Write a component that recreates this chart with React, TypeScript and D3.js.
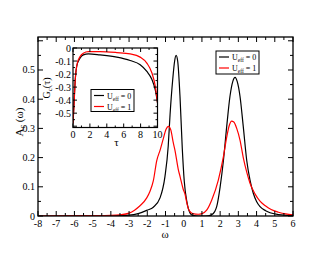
import * as d3 from 'd3'

// main panel: A_c(omega)
const omegaU0 = [-8, -5, -4, -3, -2.5, -2, -1.67, -1.3, -1.03, -0.85, -0.75, -0.6, -0.5, -0.42, -0.33, -0.2, -0.08, 0.03, 0.17, 0.35, 0.5, 0.8, 1.2, 1.5, 1.7, 1.81, 2.0, 2.18, 2.36, 2.54, 2.7, 2.82, 2.94, 3.09, 3.27, 3.46, 3.64, 3.82, 4.0, 4.19, 4.5, 4.74, 5.2, 5.5, 6]
const aU0 = [0, 0.0005, 0.001, 0.003, 0.008, 0.02, 0.03, 0.062, 0.135, 0.24, 0.347, 0.47, 0.53, 0.55, 0.53, 0.404, 0.233, 0.119, 0.05, 0.01, 0.002, 0, 0, 0.003, 0.015, 0.032, 0.1, 0.19, 0.306, 0.41, 0.462, 0.475, 0.46, 0.41, 0.306, 0.19, 0.123, 0.078, 0.05, 0.032, 0.018, 0.011, 0.005, 0.003, 0.002]

const omegaU1 = [-8, -5, -4, -3.5, -3, -2.7, -2.4, -2.03, -1.85, -1.67, -1.48, -1.3, -1.12, -0.97, -0.84, -0.71, -0.57, -0.48, -0.3, -0.2, -0.02, 0.07, 0.17, 0.25, 0.35, 0.5, 0.8, 1.0, 1.26, 1.54, 1.9, 2.18, 2.36, 2.5, 2.63, 2.75, 2.91, 3.09, 3.27, 3.46, 3.64, 3.92, 4.2, 4.5, 4.8, 5.2, 5.6, 6]
const aU1 = [0, 0.001, 0.002, 0.004, 0.01, 0.02, 0.035, 0.062, 0.085, 0.12, 0.19, 0.225, 0.265, 0.297, 0.307, 0.295, 0.25, 0.225, 0.16, 0.135, 0.09, 0.075, 0.045, 0.026, 0.015, 0.008, 0.006, 0.008, 0.02, 0.055, 0.123, 0.203, 0.27, 0.31, 0.325, 0.322, 0.3, 0.26, 0.2, 0.15, 0.112, 0.075, 0.05, 0.034, 0.022, 0.013, 0.007, 0.004]

// inset: G_c(tau)
const tauU0 = [0, 0.12, 0.24, 0.44, 0.83, 1.22, 1.82, 3.2, 5.18, 6.76, 7.95, 8.74, 9.33, 9.73, 9.93, 10]
const gU0 = [-0.58, -0.42, -0.27, -0.14, -0.078, -0.053, -0.045, -0.053, -0.07, -0.096, -0.129, -0.18, -0.24, -0.32, -0.39, -0.42]
const tauU1 = [0, 0.12, 0.27, 0.51, 0.83, 1.22, 1.82, 3.2, 5.18, 6.76, 7.95, 8.74, 9.33, 9.73, 10]
const gU1 = [-0.58, -0.44, -0.24, -0.116, -0.066, -0.04, -0.028, -0.028, -0.035, -0.045, -0.07, -0.116, -0.19, -0.29, -0.42]

const xTicks = d3.range(-8, 7, 1)
const xMinor = d3.range(-7.5, 6, 1)
const yTicks = [0, 0.1, 0.2, 0.3, 0.4, 0.5, 0.6]
const yMinor = [0.05, 0.15, 0.25, 0.35, 0.45, 0.55]
const insetXTicks = [0, 2, 4, 6, 8, 10]
const insetXMinor = [1, 3, 5, 7, 9]
const insetYTicks = [0, -0.1, -0.2, -0.3, -0.4, -0.5, -0.6]
const insetYMinor = [-0.05, -0.15, -0.25, -0.35, -0.45, -0.55]

const series = [
  { label: '0', color: '#000000' },
  { label: '1', color: '#ff0000' },
]

const FONT = '"Liberation Serif", "DejaVu Serif", serif'

function Legend({ x, y, w, h, rowH }: { x: number; y: number; w: number; h: number; rowH: number }) {
  return (
    <g>
      <rect x={x} y={y} width={w} height={h} fill="#fff" stroke="#000" strokeWidth={1} />
      {series.map((s, i) => {
        const cy = y + 6 + i * rowH
        return (
          <g key={s.label}>
            <line x1={x + 3} x2={x + 13} y1={cy} y2={cy} stroke={s.color} strokeWidth={1.2} />
            <text x={x + 16} y={cy + 3} fontSize={8} fontFamily={FONT}>
              U<tspan fontSize={5.5} dy={2}>eff</tspan><tspan dy={-2}> = {s.label}</tspan>
            </text>
          </g>
        )
      })}
    </g>
  )
}

export default function App() {
  // main panel frame
  const x = d3.scaleLinear().domain([-8, 6]).range([38, 293])
  const y = d3.scaleLinear().domain([0, 0.613]).range([216, 37])
  // inset frame
  const ix = d3.scaleLinear().domain([0, 10]).range([73, 157.5])
  const iy = d3.scaleLinear().domain([-0.61, 0]).range([127.5, 48])

  const mainLine = d3.line<[number, number]>().x(d => x(d[0])).y(d => y(d[1])).curve(d3.curveMonotoneX)
  const insetLine = d3.line<[number, number]>().x(d => ix(d[0])).y(d => iy(d[1])).curve(d3.curveMonotoneX)

  const mainData = [
    omegaU0.map((w, i) => [w, aU0[i]] as [number, number]),
    omegaU1.map((w, i) => [w, aU1[i]] as [number, number]),
  ]
  const insetData = [
    tauU0.map((t, i) => [t, gU0[i]] as [number, number]),
    tauU1.map((t, i) => [t, gU1[i]] as [number, number]),
  ]

  const [x0, x1] = x.range()
  const [yb, yt] = y.range()
  const [ix0, ix1] = ix.range()
  const [iyb, iyt] = iy.range()

  return (
    <div style={{ position: 'fixed', left: 0, top: 0 }}>
      <svg width={330} height={255} style={{ display: 'block', background: '#fff' }}>
        <defs>
          <clipPath id="main-clip"><rect x={x0} y={yt} width={x1 - x0} height={yb - yt} /></clipPath>
          <clipPath id="inset-clip"><rect x={ix0} y={iyt} width={ix1 - ix0} height={iyb - iyt} /></clipPath>
        </defs>

        {/* main curves */}
        <g clipPath="url(#main-clip)">
          {mainData.map((d, i) => (
            <path key={i} d={mainLine(d) ?? ''} fill="none" stroke={series[i].color} strokeWidth={1.2} />
          ))}
        </g>

        {/* main ticks, inward on all sides */}
        <g stroke="#000" strokeWidth={1}>
          {xTicks.map(t => (
            <g key={`xt${t}`}>
              <line x1={x(t)} x2={x(t)} y1={yb} y2={yb - 5} />
              <line x1={x(t)} x2={x(t)} y1={yt} y2={yt + 5} />
            </g>
          ))}
          {xMinor.map(t => (
            <g key={`xm${t}`}>
              <line x1={x(t)} x2={x(t)} y1={yb} y2={yb - 3} />
              <line x1={x(t)} x2={x(t)} y1={yt} y2={yt + 3} />
            </g>
          ))}
          {yTicks.map(t => (
            <g key={`yt${t}`}>
              <line x1={x0} x2={x0 + 5} y1={y(t)} y2={y(t)} />
              <line x1={x1} x2={x1 - 5} y1={y(t)} y2={y(t)} />
            </g>
          ))}
          {yMinor.map(t => (
            <g key={`ym${t}`}>
              <line x1={x0} x2={x0 + 3} y1={y(t)} y2={y(t)} />
              <line x1={x1} x2={x1 - 3} y1={y(t)} y2={y(t)} />
            </g>
          ))}
        </g>
        <rect x={x0} y={yt} width={x1 - x0} height={yb - yt} fill="none" stroke="#000" strokeWidth={1.3} />

        {/* main tick labels */}
        <g fontFamily={FONT} fontSize={10}>
          {xTicks.map(t => (
            <text key={`xl${t}`} x={x(t)} y={yb + 11} textAnchor="middle">{t}</text>
          ))}
          {yTicks.filter(t => t <= 0.5).map(t => (
            <text key={`yl${t}`} x={x0 - 3} y={y(t) + 3.5} textAnchor="end">{t === 0 ? '0' : t.toFixed(1)}</text>
          ))}
        </g>
        <text x={165} y={238} textAnchor="middle" fontFamily={FONT} fontSize={11}>ω</text>
        <text transform="translate(23,122) rotate(-90)" textAnchor="middle" fontFamily={FONT} fontSize={11}>
          A<tspan fontSize={8} dy={2}>c</tspan><tspan dy={-2}> (ω)</tspan>
        </text>

        <Legend x={216} y={51} w={43} h={23} rowH={11} />

        {/* inset */}
        <rect x={ix0} y={iyt} width={ix1 - ix0} height={iyb - iyt} fill="#fff" />
        <g clipPath="url(#inset-clip)">
          {insetData.map((d, i) => (
            <path key={i} d={insetLine(d) ?? ''} fill="none" stroke={series[i].color} strokeWidth={1.2} />
          ))}
        </g>
        <g stroke="#000" strokeWidth={1}>
          {insetXTicks.map(t => (
            <g key={`ixt${t}`}>
              <line x1={ix(t)} x2={ix(t)} y1={iyb} y2={iyb - 4} />
              <line x1={ix(t)} x2={ix(t)} y1={iyt} y2={iyt + 4} />
            </g>
          ))}
          {insetXMinor.map(t => (
            <g key={`ixm${t}`}>
              <line x1={ix(t)} x2={ix(t)} y1={iyb} y2={iyb - 2} />
              <line x1={ix(t)} x2={ix(t)} y1={iyt} y2={iyt + 2} />
            </g>
          ))}
          {insetYTicks.map(t => (
            <g key={`iyt${t}`}>
              <line x1={ix0} x2={ix0 + 4} y1={iy(t)} y2={iy(t)} />
              <line x1={ix1} x2={ix1 - 4} y1={iy(t)} y2={iy(t)} />
            </g>
          ))}
          {insetYMinor.map(t => (
            <g key={`iym${t}`}>
              <line x1={ix0} x2={ix0 + 2} y1={iy(t)} y2={iy(t)} />
              <line x1={ix1} x2={ix1 - 2} y1={iy(t)} y2={iy(t)} />
            </g>
          ))}
        </g>
        <rect x={ix0} y={iyt} width={ix1 - ix0} height={iyb - iyt} fill="none" stroke="#000" strokeWidth={1.2} />
        <g fontFamily={FONT} fontSize={10}>
          {insetXTicks.map(t => (
            <text key={`ixl${t}`} x={ix(t)} y={iyb + 10} textAnchor="middle">{t}</text>
          ))}
          {insetYTicks.filter(t => t >= -0.5).map(t => (
            <text key={`iyl${t}`} x={ix0 - 2} y={iy(t) + 3.5} textAnchor="end">{t === 0 ? '0' : t.toFixed(1)}</text>
          ))}
        </g>
        <text x={116.5} y={146} textAnchor="middle" fontFamily={FONT} fontSize={11}>τ</text>
        <text transform="translate(50,88) rotate(-90)" textAnchor="middle" fontFamily={FONT} fontSize={10}>
          G<tspan fontSize={7} dy={2}>c</tspan><tspan dy={-2}>(τ)</tspan>
        </text>

        <Legend x={91} y={89.5} w={43} h={22} rowH={11} />
      </svg>
    </div>
  )
}
